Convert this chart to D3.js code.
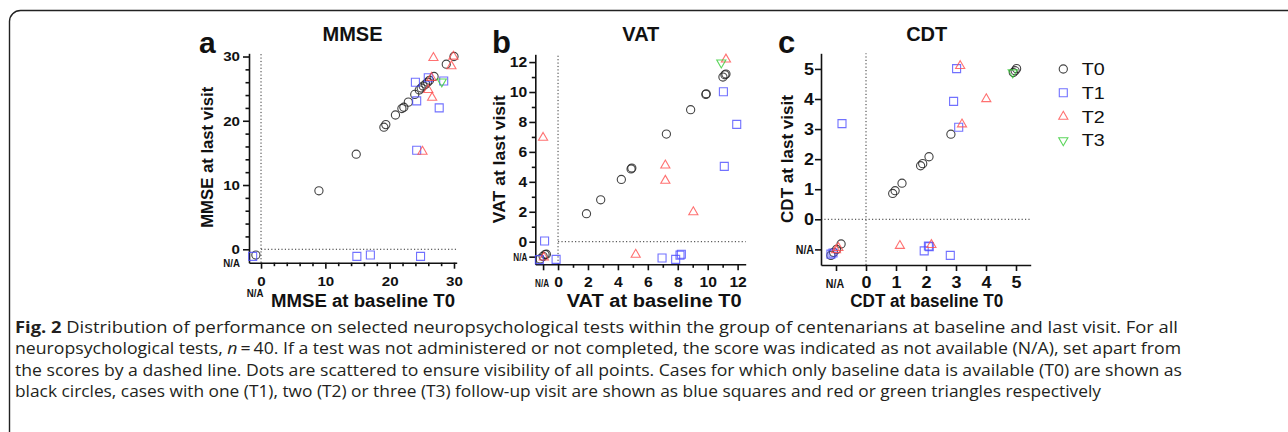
<!DOCTYPE html>
<html>
<head>
<meta charset="utf-8">
<script src="https://cdn.jsdelivr.net/npm/d3@7"></script>
<style>
  body { margin: 0; background: #fff; }
  svg { display: block; }
  text { font-family: "Liberation Sans", Arial, sans-serif; fill: #111; }
  .axis path, .axis line { stroke: #111; stroke-width: 1.6; }
  .axis text { font-weight: bold; fill: #111; }
  .zero { stroke: #333; stroke-width: 1; stroke-dasharray: 1.2, 2.2; }
  .caption { font-family: "Open Sans", sans-serif; font-size: 16px; fill: #231f20; }
</style>
</head>
<body>
<svg id="fig" width="1288" height="432"></svg>
<script>
// follow-up groups
var series = ['T0', 'T1', 'T2', 'T3'];

// [baseline T0, last visit]; values below 0 are the scattered N/A cases
var mmseT0 = [[-0.8, -0.9], [9, 9.1], [14.8, 14.8], [19.1, 19.0], [19.4, 19.4], [20.9, 20.9],
  [21.9, 21.9], [22.2, 22.1], [22.9, 22.9], [23.9, 24.1], [24.6, 24.8], [24.9, 25.1], [25.2, 25.4],
  [25.6, 25.7], [25.9, 26.0], [26.2, 26.3], [26.9, 26.9], [28.8, 28.8], [30, 30]];
var mmseT1 = [[-1.3, -1.1], [14.9, -1.1], [17.0, -0.9], [24.8, -1.1], [24.2, 15.4], [24.2, 23.1],
  [24.0, 26.0], [26.0, 26.7], [27.7, 22.0], [28.4, 26.2]];
var mmseT2 = [[26.8, 29.8], [29.9, 30.0], [29.6, 28.5], [26.5, 26.7], [26.0, 24.8], [26.6, 23.6], [25.1, 15.2]];
var mmseT3 = [[28.1, 26.1]];

var vatT0 = [[-1.2, -1.15], [-1.0, -0.98], [-0.87, -0.86], [-0.78, -0.84], [1.9, 1.87], [2.85, 2.8],
  [4.23, 4.16], [4.88, 4.86], [4.93, 4.92], [7.24, 7.19], [8.86, 8.82], [9.88, 9.84], [9.9, 9.88],
  [11.02, 11.0], [11.15, 11.15], [11.22, 11.2]];
var vatT1 = [[-0.9, 0.05], [-1.25, -1.2], [-0.13, -1.18], [6.95, -1.09], [7.86, -1.18], [8.15, -0.9],
  [8.24, -0.84], [11.05, 10.02], [11.94, 7.84], [11.11, 5.03]];
var vatT2 = [[-1.0, 6.95], [-0.95, -1.05], [5.19, -0.86], [7.17, 5.1], [7.17, 4.08], [9.04, 1.98], [11.22, 12.18]];
var vatT3 = [[10.91, 11.96]];

var cdtT0 = [[-1.17, -1.2], [-1.08, -1.1], [-0.98, -1.0], [-0.83, -0.82], [0.89, 0.86], [0.97, 0.95],
  [1.2, 1.2], [1.82, 1.78], [1.89, 1.85], [2.1, 2.08], [2.83, 2.83], [4.91, 4.88], [4.97, 4.94], [5.02, 5.01]];
var cdtT1 = [[-1.17, -1.16], [-1.1, -1.12], [-0.8, 3.18], [3.02, 5.01], [2.92, 3.92], [3.09, 3.06],
  [2.08, -0.89], [2.11, -0.91], [1.94, -1.05], [2.81, -1.2]];
var cdtT2 = [[-1.0, -1.02], [-0.92, -0.95], [3.14, 5.1], [3.2, 3.16], [4.01, 4.0], [1.13, -0.88], [2.18, -0.85]];
var cdtT3 = [[4.89, 4.88]];

// tick labels
var mmseTicks = [0, 10, 20, 30];
var vatTicks = [-1, 0, 2, 4, 6, 8, 10, 12];
var cdtTicks = [-1, 0, 1, 2, 3, 4, 5];

var captionLines = [
  [['b', 'Fig. 2'], ['', ' Distribution of performance on selected neuropsychological tests within the group of centenarians at baseline and last visit. For all']],
  [['', 'neuropsychological tests, '], ['i', 'n'], ['', '\u2009=\u200940. If a test was not administered or not completed, the score was indicated as not available (N/A), set apart from']],
  [['', 'the scores by a dashed line. Dots are scattered to ensure visibility of all points. Cases for which only baseline data is available (T0) are shown as']],
  [['', 'black circles, cases with one (T1), two (T2) or three (T3) follow-up visit are shown as blue squares and red or green triangles respectively']]
];
var captionWidths = [1163, 1166, 1167, 1086];

var SX = 1.12; // the bold labels of the original are a little stretched
var colors = {T0: '#222', T1: '#4d4dff', T2: '#ff4d4d', T3: '#33cc33'};

var svg = d3.select('#fig');

// frame of the figure
svg.append('rect')
  .attr('x', 9.5).attr('y', 10.5)
  .attr('width', 1320).attr('height', 460).attr('rx', 11)
  .attr('fill', 'none').attr('stroke', '#222').attr('stroke-width', 1.4);

var symbols = {
  T0: null,
  T1: d3.symbol(d3.symbolSquare, 64)(),
  T2: d3.symbol(d3.symbolTriangle, 36)(),
  T3: d3.symbol(d3.symbolTriangle, 36)()
};

function marker(sel, s) {
  var m;
  if (s === 'T0') {
    m = sel.append('circle').attr('r', 4.1);
  } else {
    m = sel.append('path').attr('d', symbols[s]);
  }
  return m.attr('fill', 'none')
    .attr('stroke', colors[s])
    .attr('stroke-opacity', s === 'T0' ? 0.85 : 0.8)
    .attr('stroke-width', 1.1);
}

var panels = [
  {letter: 'a', letterX: 199, letterSize: 30, title: 'MMSE', titleX: 352.5,
   data: [mmseT0, mmseT1, mmseT2, mmseT3],
   xDom: [-1.87, 30.42], xRange: [249, 456.7], yDom: [-2.09, 30.5], yRange: [262.7, 53.3],
   xTicks: mmseTicks, yTicks: mmseTicks, minor: d3.range(2, 30, 2).filter(d => d % 10),
   tickSize: 13.5, labelGap: 9, labelBase: 23.3, naInTicks: false, naSize: 10, naLen: 16.7,
   hFull: false,
   yTitle: 'MMSE at last visit', yTitleX: 213, yTitleY: 157.3, yTitleLen: 141,
   xTitle: 'MMSE at baseline T0', xTitleX: 363, xTitleLen: 184},
  {letter: 'b', letterX: 492, letterSize: 31, title: 'VAT', titleX: 640.8,
   data: [vatT0, vatT1, vatT2, vatT3],
   xDom: [-1.52, 12.54], xRange: [535.3, 745.7], yDom: [-1.51, 12.52], yRange: [264.3, 54.3],
   xTicks: vatTicks, yTicks: vatTicks, minor: d3.range(1, 12, 2),
   tickSize: 14, labelGap: 8, labelBase: 22.4, naInTicks: true, naSize: 10.5, naLen: 14,
   hFull: false,
   yTitle: 'VAT at last visit', yTitleX: 505, yTitleY: 159.2, yTitleLen: 128,
   xTitle: 'VAT at baseline T0', xTitleX: 654.2, xTitleLen: 175},
  {letter: 'c', letterX: 778, letterSize: 31, title: 'CDT', titleX: 926.7,
   data: [cdtT0, cdtT1, cdtT2, cdtT3],
   xDom: [-1.5, 5.49], xRange: [821, 1030.7], yDom: [-1.52, 5.52], yRange: [265, 53.3],
   xTicks: cdtTicks, yTicks: cdtTicks, minor: [],
   tickSize: 16, labelGap: 7, labelBase: 23.3, naInTicks: true, naSize: 12.5, naLen: 18.3,
   hFull: true,
   yTitle: 'CDT at last visit', yTitleX: 793, yTitleY: 159, yTitleLen: 128,
   xTitle: 'CDT at baseline T0', xTitleX: 926.7, xTitleLen: 153}
];

function tickFmt(d) { return d < 0 ? 'N/A' : d; }

function drawPanel(p) {
  var x = d3.scaleLinear().domain(p.xDom).range(p.xRange);
  var y = d3.scaleLinear().domain(p.yDom).range(p.yRange);
  var g = svg.append('g');

  // dotted lines separating the N/A cases
  g.append('line').attr('class', 'zero')
    .attr('x1', x(0)).attr('x2', x(0))
    .attr('y1', p.yRange[0]).attr('y2', p.yRange[1]);
  g.append('line').attr('class', 'zero')
    .attr('x1', p.hFull ? p.xRange[0] : x(0)).attr('x2', p.xRange[1])
    .attr('y1', y(0)).attr('y2', y(0));

  // axes
  var gy = g.append('g').attr('class', 'axis')
    .attr('transform', `translate(${p.xRange[0]},0)`)
    .call(d3.axisLeft(y).tickValues(p.yTicks).tickSize(6).tickSizeOuter(0).tickFormat(tickFmt));
  var gx = g.append('g').attr('class', 'axis')
    .attr('transform', `translate(0,${p.yRange[0]})`)
    .call(d3.axisBottom(x).tickValues(p.xTicks).tickSize(6).tickSizeOuter(0).tickFormat(tickFmt));

  if (p.minor.length) {
    g.append('g').attr('class', 'axis')
      .attr('transform', `translate(${p.xRange[0]},0)`)
      .call(d3.axisLeft(y).tickValues(p.minor).tickSize(3.5).tickFormat(''))
      .select('.domain').remove();
    g.append('g').attr('class', 'axis')
      .attr('transform', `translate(0,${p.yRange[0]})`)
      .call(d3.axisBottom(x).tickValues(p.minor).tickSize(3.5).tickFormat(''))
      .select('.domain').remove();
  }

  gy.selectAll('.tick text')
    .attr('font-size', p.tickSize)
    .attr('x', -p.labelGap / SX)
    .attr('transform', `scale(${SX},1)`);
  gx.selectAll('.tick text')
    .attr('font-size', p.tickSize)
    .attr('y', p.labelBase).attr('dy', 0)
    .attr('transform', `scale(${SX},1)`);

  g.selectAll('.tick text').filter(d => d < 0)
    .attr('font-size', p.naSize)
    .attr('textLength', p.naLen / SX)
    .attr('lengthAdjust', 'spacingAndGlyphs');
  // keep the N/A of the x axis clear of the 0
  gx.selectAll('.tick text').filter(d => d < 0)
    .attr('x', -1.5 / SX);

  if (!p.naInTicks) {
    g.append('text')
      .attr('x', p.xRange[0] - p.labelGap).attr('y', p.yRange[0] + 4.5)
      .attr('text-anchor', 'end').attr('font-weight', 'bold').attr('font-size', p.naSize)
      .attr('textLength', p.naLen).attr('lengthAdjust', 'spacingAndGlyphs')
      .text('N/A');
    g.append('text')
      .attr('x', x(-0.93)).attr('y', p.yRange[0] + 34)
      .attr('text-anchor', 'middle').attr('font-weight', 'bold').attr('font-size', p.naSize)
      .attr('textLength', p.naLen).attr('lengthAdjust', 'spacingAndGlyphs')
      .text('N/A');
  }

  // points
  series.forEach(function(s, i) {
    g.append('g').selectAll('g')
      .data(p.data[i])
      .enter().append('g')
      .attr('transform', d => `translate(${x(d[0])},${y(d[1])})` + (s === 'T3' ? ' rotate(180)' : ''))
      .each(function() { marker(d3.select(this), s); });
  });

  // labels
  svg.append('text')
    .attr('x', p.letterX).attr('y', 52.7)
    .attr('font-weight', 'bold').attr('font-size', p.letterSize)
    .text(p.letter);
  svg.append('text')
    .attr('x', p.titleX).attr('y', 41)
    .attr('text-anchor', 'middle').attr('font-weight', 'bold').attr('font-size', 20)
    .text(p.title);
  svg.append('text')
    .attr('transform', `translate(${p.yTitleX},${p.yTitleY}) rotate(-90)`)
    .attr('text-anchor', 'middle').attr('font-weight', 'bold').attr('font-size', 17)
    .attr('textLength', p.yTitleLen).attr('lengthAdjust', 'spacingAndGlyphs')
    .text(p.yTitle);
  svg.append('text')
    .attr('x', p.xTitleX).attr('y', 306.5)
    .attr('text-anchor', 'middle').attr('font-weight', 'bold').attr('font-size', 17.5)
    .attr('textLength', p.xTitleLen).attr('lengthAdjust', 'spacingAndGlyphs')
    .text(p.xTitle);
}

panels.forEach(drawPanel);

/*
 * Legend
 */
var legend = svg.append('g').attr('transform', 'translate(1063.3, 69)');
series.forEach(function(s, i) {
  var entry = legend.append('g').attr('transform', `translate(0, ${i * 23.8})`);
  marker(entry.append('g').attr('transform', s === 'T3' ? 'rotate(180)' : null), s);
  entry.append('text')
    .attr('x', 18.4).attr('y', 6)
    .attr('font-size', 16.5)
    .attr('textLength', 23).attr('lengthAdjust', 'spacingAndGlyphs')
    .text(s);
});

/*
 * Caption
 */
captionLines.forEach(function(line, i) {
  var t = svg.append('text').attr('class', 'caption')
    .attr('x', 15).attr('y', 332.5 + i * 21.6)
    .attr('textLength', captionWidths[i])
    .attr('lengthAdjust', 'spacingAndGlyphs');
  line.forEach(function(part) {
    var span = t.append('tspan').text(part[1]);
    if (part[0] === 'b') span.attr('font-weight', 'bold');
    if (part[0] === 'i') span.attr('font-style', 'italic');
  });
});
</script>
</body>
</html>
